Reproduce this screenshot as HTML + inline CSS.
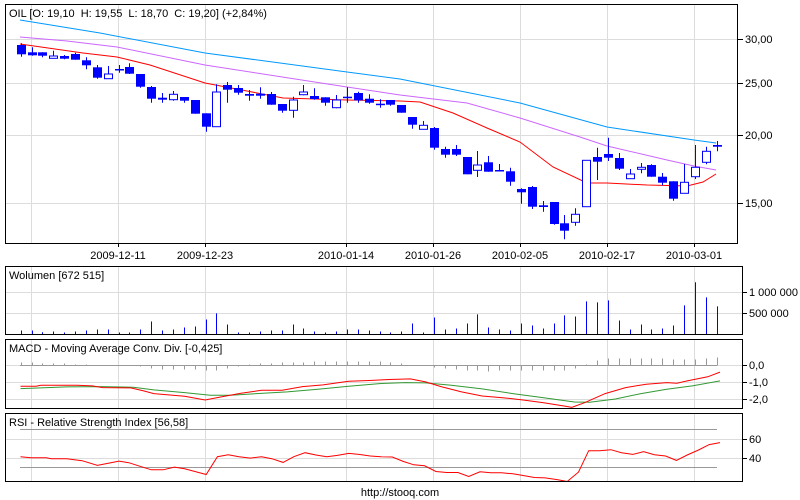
<!DOCTYPE html>
<html><head><meta charset="utf-8"><style>
html,body{margin:0;padding:0;background:#fff;width:800px;height:500px;overflow:hidden}
svg{display:block;font-family:"Liberation Sans",sans-serif;font-size:11px}
</style></head><body>
<svg id="s" width="800" height="500" xmlns="http://www.w3.org/2000/svg"></svg>
<script>
var s=document.getElementById('s'),h='';
function L(x1,y1,x2,y2,c,w){h+='<line x1="'+x1+'" y1="'+y1+'" x2="'+x2+'" y2="'+y2+'" stroke="'+c+'" stroke-width="'+(w||1)+'"/>';}
function T(x,y,t,a){h+='<text x="'+x+'" y="'+y+'"'+(a?' text-anchor="'+a+'"':'')+' fill="#000">'+t+'</text>';}
function P(pts,c){h+='<polyline fill="none" stroke="'+c+'" stroke-width="1" points="'+pts.map(function(p){return p[0]+','+p[1]}).join(' ')+'"/>';}
var gx=[31.5,118.5,205.5,346.5,433.5,520.5,607.5,694.5];
var panels=[[4.5,243.5],[266.5,334.5],[339.5,408.5],[413.5,481.5]];
panels.forEach(function(p){gx.forEach(function(x){L(x,p[0],x,p[1],'#dcdcdc');});});
// main grid
[39.5,83.5,135.5,203.5].forEach(function(y){L(5,y,738,y,'#dcdcdc');L(738,y,743,y,'#000');});
T(745,43,'30,00');T(745,87,'25,00');T(745,139,'20,00');T(745,207,'15,00');
// MAs
P([[20,20],[100,33],[205,53],[347,72],[400,79],[520,103],[607,127],[694,140],[716,143]],'#0099ff');
P([[20,37],[67,41],[117,47],[205,65],[347,87],[400,95],[467,103],[520,118],[580,137],[607,146],[667,160],[694,166],[716,170]],'#cc66ff');
P([[20,44],[83,53],[117,57],[150,65],[205,83],[247,91],[283,98],[347,100],[400,101],[420,102],[453,113],[487,128],[520,142],[553,167],[587,183],[607,183],[647,185],[687,186],[703,182],[716,174]],'#ff0000');
// candles: [bodyTop,bodyBot,wickTop,wickBot,filled]
var c=[[45,54.3,43.3,56.7,1],[52.3,55.3,47.3,55.7,1],[52.3,55.7,52.3,57.3,1],[56,58.3,50.7,58.3,0],[56,58.7,55,59.3,1],[54,59.7,52.7,59.7,1],[60.3,65.3,57.3,69.3,1],[67.3,77.7,65,78.7,1],[74,78.7,66,78.7,0],[69,70.3,65,72.7,1],[67,73.7,63.3,74,1],[74,86.7,74,87.7,1],[87,98.7,86,102.7,1],[97.7,99.7,93,102.7,1],[94.3,99.7,91,100.7,0],[97,100.7,97,102.7,1],[100,113.7,100,113.7,1],[113.3,126.7,113.3,131.7,1],[92,126.7,84.3,126.7,0],[85,89.7,82,102.7,1],[88,92.7,85,94.7,1],[94,95.7,90,100.7,1],[93.7,95.7,87.3,98.7,1],[94,104.7,92,104.7,1],[104,110.7,104,112.7,1],[100,110.3,96.7,117.7,0],[92,94.7,85,95.3,0],[96,99,88.3,99.7,1],[97.3,102.7,97.3,105.7,1],[100,107.7,95,108.3,0],[96.7,98,87.3,102.7,1],[93,100.3,91.7,102.7,1],[98.7,102.7,94.3,103.7,1],[103.7,104.7,99.3,107.7,1],[100,104.7,100,105.7,1],[105,112.7,105,112.7,1],[117,124.7,117,128.7,1],[125.3,129.3,121,129.3,0],[128,147.7,127,149.7,1],[149,154.7,146.7,157.7,1],[149,154.7,145,156,1],[157,174.3,157,174.3,1],[165,170.3,151,177,0],[162.3,171.7,156,171.7,1],[170,171.3,164,171.3,1],[171.3,181.7,167.7,185.7,1],[189,192.3,188.3,203.7,1],[187,206.7,186,209,1],[205.3,207,201,211.7,1],[202,224,202,224.7,1],[223.3,230.7,215,239.3,1],[214.3,222.3,208.3,225.7,0],[160.3,206.7,160.3,206.7,0],[157,161.7,147.7,180,1],[154,157.7,137.7,161,1],[158,168.7,153,170,1],[174,178.7,169,178.7,0],[167.3,169.3,163,173.3,0],[165,176.7,164.3,176.7,1],[176.7,182.7,173,185.3,1],[181.3,198.7,181.3,200.7,1],[182.3,193.3,164,193.3,0],[167.3,176.7,145,179,0],[151.3,162.3,146.7,164.3,0],[145,146.7,141,151.3,1]];
c.forEach(function(d,i){var x=Math.round(20.7+i*10.875)+0.5;L(x,d[2],x,d[3],'#0000ff');
var bh=Math.max(d[1]-d[0],1.5);
if(d[4])h+='<rect x="'+(x-4.5)+'" y="'+d[0]+'" width="9" height="'+bh+'" fill="#0000ff"/>';
else h+='<rect x="'+(x-4)+'" y="'+d[0]+'" width="8" height="'+bh+'" fill="#fff" stroke="#0000ff"/>';});
// volume
[292.5,313.5].forEach(function(y){L(5,y,742,y,'#dcdcdc');L(742,y,747,y,'#000');});
T(749,296,'1 000 000');T(749,317,'500 000');
var v=[240,240,245,243,246,243,240,237,237,246,246,237,213,240,237,231,228,207,189,222,246,246,243,240,240,222,234,243,246,243,237,237,240,243,246,243,219,246,201,237,234,219,192,231,237,240,219,225,234,219,195,198,153,156,150,210,237,222,237,234,225,165,96,141,168];
v.forEach(function(t,i){var x=Math.round(20.7+i*10.875)+0.5;L(x,250+t/2.98,x,334.5,'#0000ff');});
// MACD
[365.5,382.5,399.5].forEach(function(y){L(5,y,742,y,'#dcdcdc');L(742,y,747,y,'#000');});
T(749,369,'0,0');T(749,386,'-1,0');T(749,403,'-2,0');
L(20,365.5,717,365.5,'#999');
var hb=[3,3,2,2,2,1,1,0,0,0,0,-1,-3,-4,-4,-4,-4,-5,-5,-3,-1,1,2,2,3,3,3,4,4,4,4,4,4,4,3,2,0,0,-2,-3,-4,-5,-5,-6,-5,-5,-5,-5,-5,-5,-5,-3,1,5,7,7,7,7,7,7,6,6,6,7,8];
hb.forEach(function(b,i){if(!b)return;var x=Math.round(20.7+i*10.875)+0.5;L(x,365.5,x,365.5-b,'#999');});
function cv(a){return a.map(function(p){return [(p[0]/1.95).toFixed(1),(250+p[1]/2.98).toFixed(1)]});}
P(cv([[40,413],[80,411],[130,408],[200,407],[260,409],[300,417],[360,425],[410,433],[450,433],[500,428],[560,423],[620,415],[680,406],[740,398],[790,395],[830,396],[880,403],[940,414],[1000,428],[1060,440],[1120,453],[1150,454],[1200,444],[1250,428],[1300,415],[1350,405],[1404,390]]),'#339933');
P(cv([[40,406],[70,406],[80,403],[150,403],[180,405],[200,410],[255,411],[280,420],[300,428],[360,436],[400,447],[430,438],[470,427],[510,418],[550,418],[590,407],[630,402],[680,391],[720,389],[760,386],[800,384],[830,393],[860,407],[900,423],[940,435],[980,440],[1020,447],[1060,455],[1100,465],[1115,469],[1140,455],[1180,428],[1220,410],[1260,400],[1300,395],[1320,397],[1340,390],[1380,378],[1404,364]]),'#ff0000');
// RSI
[439.5,458.5].forEach(function(y){L(5,y,742,y,'#dcdcdc');L(742,y,747,y,'#000');});
T(749,443,'60');T(749,462,'40');
L(20,429.5,717,429.5,'#999');L(20,467.5,717,467.5,'#999');
P(cv([[40,616],[60,619],[90,619],[100,622],[130,622],[160,628],[190,642],[210,636],[232,629],[252,634],[270,643],[295,655],[318,655],[340,647],[360,652],[380,660],[402,669],[424,616],[445,610],[466,616],[488,620],[510,616],[530,622],[552,633],[573,616],[595,604],[616,611],[637,616],[658,612],[680,606],[700,609],[722,614],[743,616],[765,617],[786,630],[807,640],[828,643],[850,660],[871,663],[893,663],[914,675],[936,661],[957,664],[978,664],[1000,667],[1020,672],[1042,678],[1063,679],[1085,684],[1106,690],[1128,662],[1148,598],[1169,598],[1191,595],[1212,604],[1234,609],[1255,601],[1276,610],[1298,614],[1319,627],[1340,611],[1362,596],[1383,580],[1404,574]]),'#ff0000');
// borders
h+='<rect x="5.5" y="4.5" width="732" height="239" fill="none" stroke="#000"/>';
h+='<rect x="5.5" y="266.5" width="737" height="68" fill="none" stroke="#000"/>';
h+='<rect x="5.5" y="339.5" width="737" height="69" fill="none" stroke="#000"/>';
h+='<rect x="5.5" y="413.5" width="737" height="68" fill="none" stroke="#000"/>';
// date ticks & labels
[118.5,205.5,346.5,433.5,520.5,607.5,694.5].forEach(function(x){L(x,243,x,247,'#000');});
var dl=['2009-12-11','2009-12-23','2010-01-14','2010-01-26','2010-02-05','2010-02-17','2010-03-01'];
[118,205,346,433,520,607,694].forEach(function(x,i){T(x,259,dl[i],'middle');});
T(9,17,'OIL [O: 19,10&#160; H: 19,55&#160; L: 18,70&#160; C: 19,20] (+2,84%)');
T(9,279,'Wolumen [672 515]');
T(9,352,'MACD - Moving Average Conv. Div. [-0,425]');
T(9,426,'RSI - Relative Strength Index [56,58]');
T(400,496,'http://stooq.com','middle');
s.innerHTML=h;
</script>
</body></html>
